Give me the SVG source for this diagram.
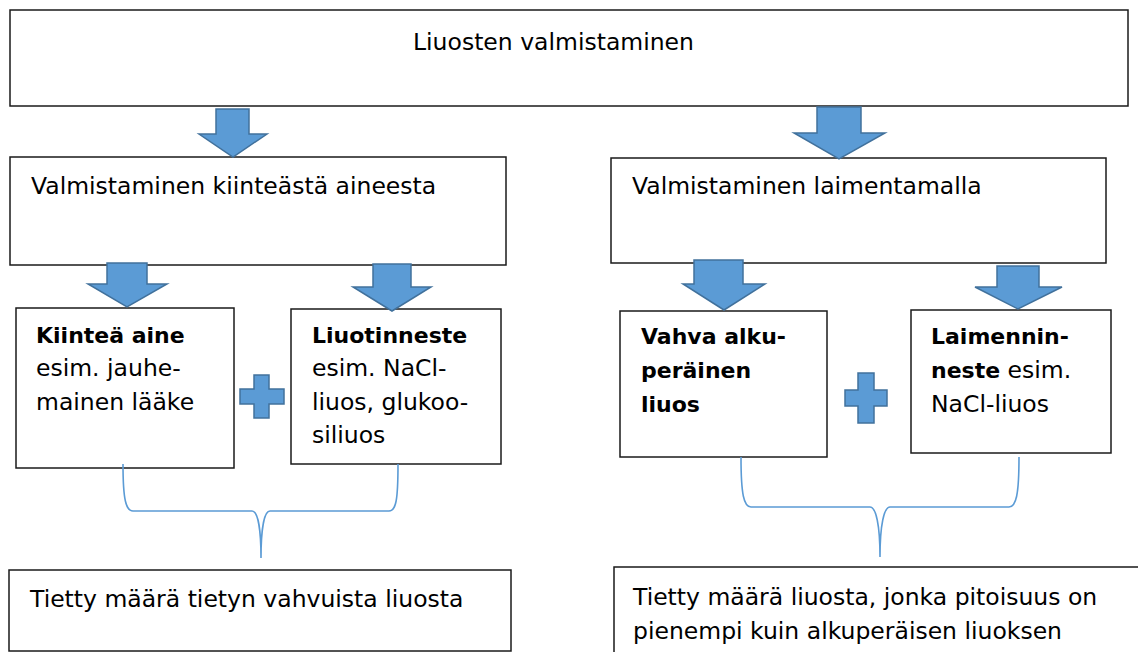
<svg xmlns="http://www.w3.org/2000/svg" width="1138" height="652" viewBox="0 0 1138 652">
<style>
.box{fill:#fff;stroke:#1a1a1a;stroke-width:1.5}
.arr{fill:#5B9BD5;stroke:#41719C;stroke-width:1.5;stroke-linejoin:miter}
.brace{fill:none;stroke:#5B9BD5;stroke-width:1.6}
text{font-family:"DejaVu Sans",Verdana,sans-serif;font-size:23.5px;fill:#000}
.b{font-weight:bold;font-size:22px}
</style>
<rect width="1138" height="652" fill="#fff"/>
<g id="n-top"><rect class="box" x="10" y="10" width="1118" height="96"/><text x="413" y="50">Liuosten valmistaminen</text></g>
<g id="n-solid"><rect class="box" x="10" y="157" width="496" height="108"/><text x="31" y="194">Valmistaminen kiinteästä aineesta</text></g>
<g id="n-dilute"><rect class="box" x="611" y="158" width="495" height="105"/><text x="632" y="194">Valmistaminen laimentamalla</text></g>
<g id="n-kiintea"><rect class="box" x="16" y="308" width="218" height="160"/><text x="36" y="343" class="b">Kiinteä aine</text><text x="36" y="376">esim. jauhe-</text><text x="36" y="410">mainen lääke</text></g>
<g id="n-liuotin"><rect class="box" x="291" y="309" width="210" height="155"/><text x="312" y="343" class="b">Liuotinneste</text><text x="312" y="376">esim. NaCl-</text><text x="312" y="410">liuos, glukoo-</text><text x="312" y="443">siliuos</text></g>
<g id="n-vahva"><rect class="box" x="620" y="311" width="207" height="146"/><text x="641" y="344" class="b">Vahva alku-</text><text x="641" y="378" class="b">peräinen</text><text x="641" y="412" class="b">liuos</text></g>
<g id="n-laimennin"><rect class="box" x="911" y="310" width="200" height="143"/><text x="931" y="344" class="b">Laimennin-</text><text x="931" y="378"><tspan class="b">neste</tspan> esim.</text><text x="931" y="412">NaCl-liuos</text></g>
<g id="n-result1"><rect class="box" x="9" y="570" width="502" height="81"/><text x="30" y="607">Tietty määrä tietyn vahvuista liuosta</text></g>
<g id="n-result2"><rect class="box" x="614" y="567" width="540" height="100"/><text x="633" y="605">Tietty määrä liuosta, jonka pitoisuus on</text><text x="633" y="639">pienempi kuin alkuperäisen liuoksen</text></g>
<g id="plus1"><polygon class="arr" points="254,375 269,375 269,389 284,389 284,404 269,404 269,418 254,418 254,404 240,404 240,389 254,389"/></g>
<g id="plus2"><polygon class="arr" points="858,373 874,373 874,390 887,390 887,406 874,406 874,423 858,423 858,406 845,406 845,390 858,390"/></g>
<g id="connectors">
<polygon class="arr" points="216,109 249,109 249,134 267,134 233,157 199,134 216,134"/>
<polygon class="arr" points="817,107 861,107 861,133 885,133 839,159 794,133 817,133"/>
<polygon class="arr" points="107,263 147,263 147,284 167,284 127,307 88,284 107,284"/>
<polygon class="arr" points="373,264 411,264 411,287 431,287 392,311 353,287 373,287"/>
<polygon class="arr" points="694,260 743,260 743,284 765,284 724,310 683,284 694,284"/>
<polygon class="arr" points="997,266 1039,266 1039,287 1062,287 1018,309 975,287 997,287"/>
<path class="brace" d="M123,464 C123,500 126,511 133,511 L252,511 C258,511 261,530 261,558 C261,530 264,511 270,511 L389,511 C396,511 398,500 398,464"/>
<path class="brace" d="M741,457 C741,495 744,507 751,507 L870,507 C876,507 880,525 880,557 C880,525 884,507 890,507 L1009,507 C1016,507 1019,495 1019,457"/>
</g>
</svg>
